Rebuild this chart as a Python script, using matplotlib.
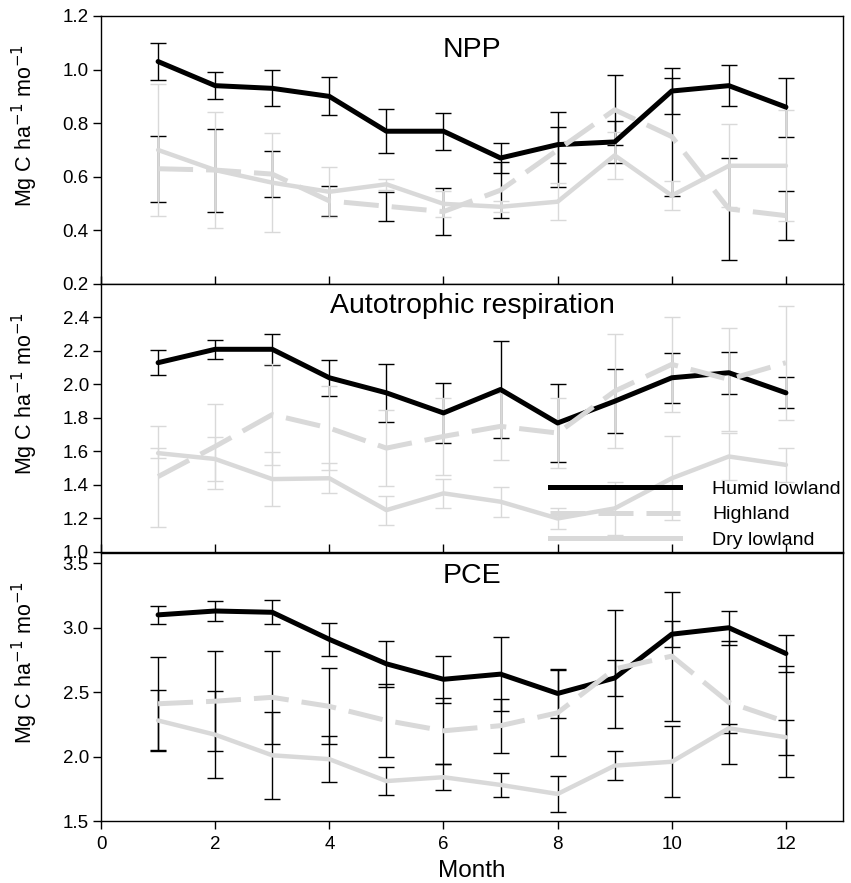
import matplotlib
matplotlib.use("Agg")
import matplotlib.pyplot as plt
from matplotlib.lines import Line2D

plt.rcParams["font.family"] = ["Liberation Sans", "DejaVu Sans"]

MONTHS = list(range(1, 13))

# NPP
NPP_HUMID = [1.03, 0.94, 0.93, 0.90, 0.77, 0.77, 0.67, 0.72, 0.73, 0.92, 0.94, 0.86]
NPP_HUMID_ERR = [0.07, 0.05, 0.067, 0.071, 0.083, 0.069, 0.056, 0.067, 0.078, 0.085, 0.077, 0.11]
NPP_HIGH = [0.63, 0.625, 0.61, 0.51, 0.49, 0.47, 0.55, 0.70, 0.85, 0.75, 0.48, 0.455]
NPP_HIGH_ERR = [0.123, 0.155, 0.086, 0.056, 0.055, 0.089, 0.105, 0.14, 0.13, 0.22, 0.19, 0.092]
NPP_DRY = [0.70, 0.625, 0.578, 0.544, 0.572, 0.499, 0.488, 0.507, 0.68, 0.53, 0.641, 0.641]
NPP_DRY_ERR = [0.247, 0.215, 0.185, 0.094, 0.02, 0.048, 0.02, 0.07, 0.087, 0.053, 0.155, 0.207]

# Autotrophic respiration
AR_HUMID = [2.13, 2.21, 2.21, 2.04, 1.95, 1.83, 1.97, 1.77, 1.90, 2.04, 2.07, 1.95]
AR_HUMID_ERR = [0.075, 0.057, 0.092, 0.107, 0.173, 0.18, 0.287, 0.232, 0.19, 0.148, 0.126, 0.092]
AR_HIGH = [1.45, 1.63, 1.82, 1.74, 1.62, 1.69, 1.75, 1.71, 1.96, 2.12, 2.03, 2.13]
AR_HIGH_ERR = [0.30, 0.255, 0.30, 0.25, 0.227, 0.23, 0.2, 0.21, 0.34, 0.285, 0.31, 0.34]
AR_DRY = [1.59, 1.555, 1.435, 1.44, 1.25, 1.35, 1.30, 1.20, 1.26, 1.44, 1.57, 1.52]
AR_DRY_ERR = [0.03, 0.13, 0.16, 0.09, 0.087, 0.085, 0.09, 0.06, 0.16, 0.25, 0.14, 0.1]

# PCE
PCE_HUMID = [3.10, 3.13, 3.12, 2.91, 2.72, 2.60, 2.64, 2.49, 2.61, 2.95, 3.00, 2.80]
PCE_HUMID_ERR = [0.07, 0.074, 0.094, 0.127, 0.18, 0.184, 0.285, 0.19, 0.14, 0.1, 0.13, 0.14]
PCE_HIGH = [2.41, 2.43, 2.46, 2.39, 2.28, 2.20, 2.24, 2.34, 2.68, 2.78, 2.42, 2.27]
PCE_HIGH_ERR = [0.36, 0.386, 0.363, 0.296, 0.28, 0.255, 0.21, 0.333, 0.46, 0.5, 0.48, 0.43]
PCE_DRY = [2.28, 2.17, 2.01, 1.98, 1.81, 1.84, 1.78, 1.71, 1.93, 1.96, 2.22, 2.15]
PCE_DRY_ERR = [0.233, 0.34, 0.337, 0.18, 0.11, 0.1, 0.09, 0.14, 0.11, 0.276, 0.036, 0.134]

LABELS = ["Humid lowland", "Highland", "Dry lowland"]
GREY = "#d9d9d9"
DASH = (0, (7, 2.6))
YLABEL = r"Mg C ha$^{-1}$ mo$^{-1}$"


def panel(ax, series, err_colors, title, title_y, ylim, yticks):
    styles = [
        dict(color="black", lw=3.6, ls="-"),
        dict(color=GREY, lw=3.6, ls=DASH),
        dict(color=GREY, lw=3.2, ls="-"),
    ]
    for (vals, errs), ec in zip(series, err_colors):
        ax.errorbar(MONTHS, vals, yerr=errs, fmt="none", ecolor=ec,
                    elinewidth=1.0, capsize=5.8, capthick=1.0, zorder=2)
    for (vals, errs), st in zip(series, styles):
        ax.plot(MONTHS, vals, zorder=3, solid_capstyle="round",
                solid_joinstyle="round", **st)
    ax.set_xlim(0, 13)
    ax.set_ylim(*ylim)
    ax.set_yticks(yticks)
    ax.yaxis.set_major_formatter(plt.FormatStrFormatter("%.1f"))
    ax.set_xticks(range(0, 13, 2))
    ax.tick_params(axis="y", direction="out", length=5.8, width=1.0,
                   labelsize=13.5, pad=3)
    ax.tick_params(axis="x", direction="in", length=5.5, width=1.0,
                   labelsize=13.5)
    for sp in ax.spines.values():
        sp.set_linewidth(1.0)
    ax.set_ylabel(YLABEL, fontsize=15.5)
    ax.yaxis.set_label_coords(-0.082, 0.59)
    ax.text(0.5, title_y, title, transform=ax.transAxes, ha="center",
            va="baseline", fontsize=20.5)


fig = plt.figure(figsize=(8.51, 8.83), dpi=100)
left, width, h = 0.1187, 0.8719, 0.3035
ax1 = fig.add_axes([left, 0.6784, width, h])
ax2 = fig.add_axes([left, 0.3749, width, h])
ax3 = fig.add_axes([left, 0.0702, width, h])

panel(ax1, [(NPP_HUMID, NPP_HUMID_ERR), (NPP_HIGH, NPP_HIGH_ERR), (NPP_DRY, NPP_DRY_ERR)],
      ["black", "black", GREY], "NPP", 0.848, (0.2, 1.2),
      [0.2, 0.4, 0.6, 0.8, 1.0, 1.2])
panel(ax2, [(AR_HUMID, AR_HUMID_ERR), (AR_HIGH, AR_HIGH_ERR), (AR_DRY, AR_DRY_ERR)],
      ["black", GREY, GREY], "Autotrophic respiration", 0.891, (1.0, 2.6),
      [1.0, 1.2, 1.4, 1.6, 1.8, 2.0, 2.2, 2.4])
panel(ax3, [(PCE_HUMID, PCE_HUMID_ERR), (PCE_HIGH, PCE_HIGH_ERR), (PCE_DRY, PCE_DRY_ERR)],
      ["black", "black", "black"], "PCE", 0.889, (1.5, 3.58),
      [1.5, 2.0, 2.5, 3.0, 3.5])

for ax in (ax1, ax2):
    ax.tick_params(axis="x", labelbottom=False)
ax3.tick_params(axis="x", direction="out", pad=5)
ax3.set_xlabel("Month", fontsize=17.5)
ax3.xaxis.set_label_coords(0.5, -0.146)

handles = [
    Line2D([], [], color="black", lw=3.6),
    Line2D([], [], color=GREY, lw=3.6, ls=DASH),
    Line2D([], [], color=GREY, lw=3.6),
]
ax2.legend(handles, LABELS, loc="upper left", bbox_to_anchor=(0.605, 0.267),
           frameon=False, fontsize=14, handlelength=6.7, handletextpad=1.65,
           labelspacing=0.4, borderpad=0, borderaxespad=0)

fig.savefig("out.png", dpi=100)
